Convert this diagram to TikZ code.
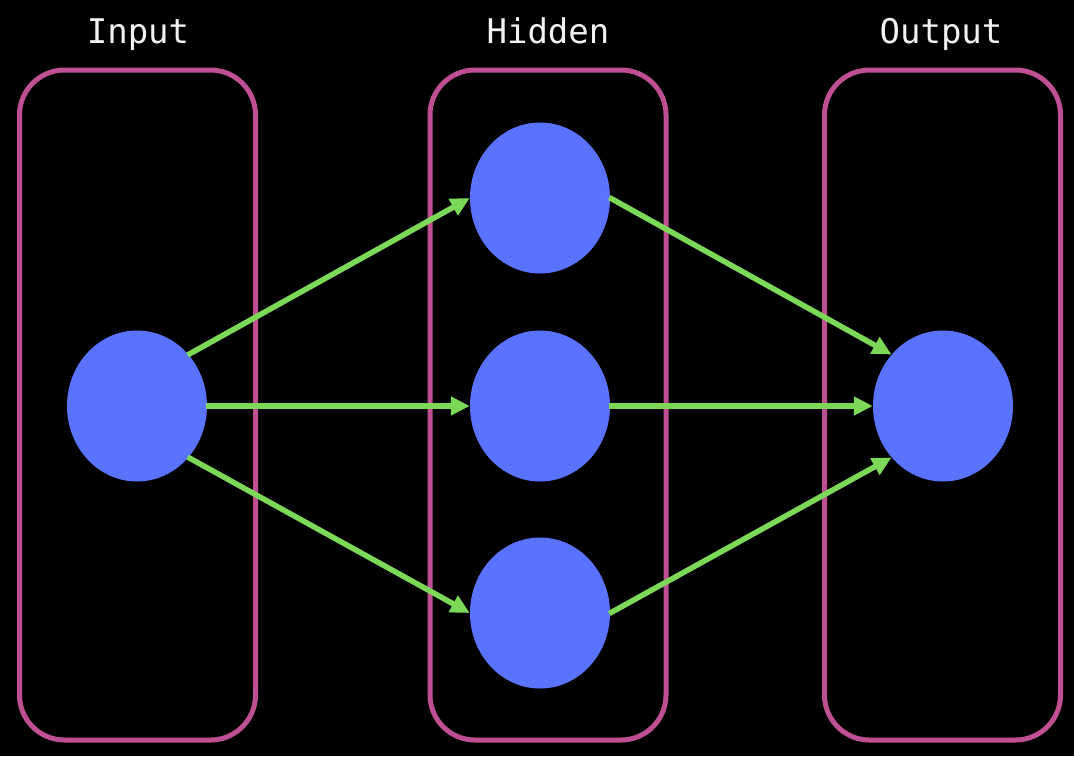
\documentclass[tikz,border=0pt]{standalone}
\usepackage{fontspec}
\setmonofont{DejaVu Sans Mono}
\usetikzlibrary{arrows.meta,positioning,shapes.geometric}
\definecolor{NetBack}{HTML}{000000}
\definecolor{NetLayer}{HTML}{BE4F92}
\definecolor{NetUnit}{HTML}{5A73FF}
\definecolor{NetLink}{HTML}{7CD958}
\definecolor{NetText}{HTML}{F2F2F2}

\begin{document}
\begin{tikzpicture}[x=1pt, y=-1pt,
    layerbox/.style={draw=NetLayer, line width=5pt, rounded corners=45pt, minimum width=236pt, minimum height=670pt},
    layername/.style={text=NetText, anchor=base, font=\ttfamily\fontsize{34}{40}\selectfont},
    unit/.style={ellipse, fill=NetUnit, minimum width=140pt, minimum height=151pt, inner sep=0pt},
    link/.style={-{Triangle[length=19pt, width=18pt]}, line width=5.5pt, NetLink, shorten <=-1pt}]
    \fill[NetBack] (0,0) rectangle (1074,756);
    \useasboundingbox (0,0) rectangle (1074,756);

    % layer frames and titles
    \node[layerbox] (inbox) at (137.5,405) {};
    \node[layerbox] (hidbox) at (548,405) {};
    \node[layerbox] (outbox) at (942.5,405) {};
    \node[layername] (inname) at (138,43) {Input};
    \node[layername] (hidname) at (548,43) {Hidden};
    \node[layername] (outname) at (941,43) {Output};

    % units
    \node[unit] (x1) at (137,406) {};
    \node[unit] (h1) at (540,198) {};
    \node[unit] (h2) at (540,406) {};
    \node[unit] (h3) at (540,613) {};
    \node[unit] (y1) at (943,406) {};

    % connections
    \draw[link] (x1.45) -- (h1.west);
    \draw[link] (x1.east) -- (h2.west);
    \draw[link] (x1.-45) -- (h3.west);
    \draw[link] (h1.east) -- (y1.135);
    \draw[link] (h2.east) -- (y1.west);
    \draw[link] (h3.east) -- (y1.-135);
\end{tikzpicture}
\end{document}
